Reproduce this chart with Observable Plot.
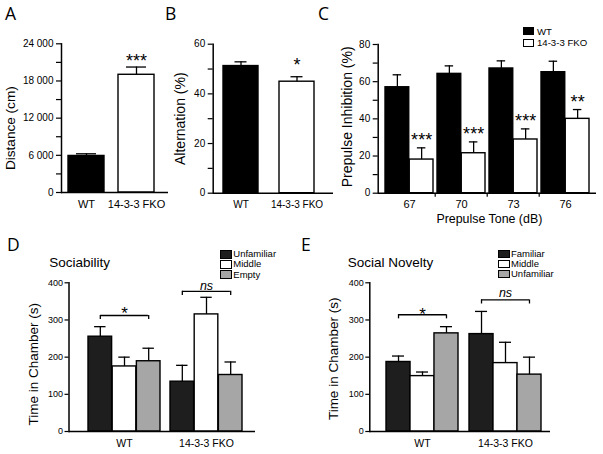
<!DOCTYPE html>
<html>
<head>
<meta charset="utf-8">
<script src="https://cdn.jsdelivr.net/npm/d3@7"></script>
<script src="https://cdn.jsdelivr.net/npm/@observablehq/plot@0.6"></script>
<style>
html,body{margin:0;padding:0;background:#fff;}
#fig{position:relative;width:603px;height:454px;overflow:hidden;background:#fff;color:#000;}
.abs{position:absolute;white-space:nowrap;line-height:1;margin:0;}
.sw{position:absolute;box-sizing:border-box;border:1px solid #000;}
</style>
</head>
<body>
<div id="fig"></div>
<script>
// ---------- Panel A: open field distance ----------
const genotypes = ["WT", "14-3-3 FKO"];
const distanceMean = [5900, 19000];
const distanceErr = [6250, 20250];
const distanceSig = ["", "***"];
const distanceTicks = [0, 6000, 12000, 18000, 24000];
const distanceMinor = [3000, 9000, 15000, 21000];

// ---------- Panel B: alternation ----------
const alternationMean = [51.2, 44.9];
const alternationErr = [52.9, 46.9];
const alternationSig = ["", "*"];
const alternationTicks = [0, 20, 40, 60];
const alternationMinor = [10, 30, 50];

// ---------- Panel C: prepulse inhibition ----------
const tones = ["67", "70", "73", "76"];
const ppiWT = [57.0, 64.2, 67.1, 65.1];
const ppiWTErr = [63.7, 68.5, 71.2, 71.0];
const ppiFKO = [18.1, 21.5, 28.9, 40.0];
const ppiFKOErr = [24.4, 27.6, 34.6, 45.0];
const ppiSig = ["***", "***", "***", "**"];
const ppiTicks = [0, 20, 40, 60, 80];
const ppiMinor = [10, 30, 50, 70];

// ---------- Panel D: sociability ----------
const socChambers = ["Unfamiliar", "Middle", "Empty"];
const socWT = [255, 175, 189];
const socWTErr = [282, 200, 224];
const socFKO = [134, 315, 152];
const socFKOErr = [178, 361, 187];
const socBracket = [312, 377];
const socBracketSig = ["*", "ns"];

// ---------- Panel E: social novelty ----------
const novChambers = ["Familiar", "Middle", "Unfamiliar"];
const novWT = [187, 149, 264];
const novWTErr = [203, 160, 282];
const novFKO = [262, 184, 153];
const novFKOErr = [323, 240, 200];
const novBracket = [314, 354];
const novBracketSig = ["*", "ns"];

const chamberTicks = [0, 100, 200, 300, 400];
const chamberFills = ["#1e1e1e", "#ffffff", "#a6a6a6"];

const FONT = "'Liberation Sans', Arial, Helvetica, sans-serif";
const fig = document.getElementById("fig");

function addText(txt, x, baseline, size, extra = {}) {
  const d = document.createElement("div");
  d.className = "abs";
  d.textContent = txt;
  const fam = extra.family || FONT;
  const ratio = extra.ratio || 0.8465;
  Object.assign(d.style, {left: x + "px", top: (baseline - ratio * size) + "px", fontSize: size + "px", fontFamily: fam});
  fig.appendChild(d);
}

function addLegend(items, o) {
  items.forEach((it, i) => {
    const s = document.createElement("div");
    s.className = "sw";
    Object.assign(s.style, {left: o.swX + "px", top: (o.swY + i * o.step) + "px", width: o.swW + "px", height: o.swH + "px", background: it.fill});
    fig.appendChild(s);
    addText(it.label, o.textX, o.base + i * o.step, o.font);
  });
}

function drawPanel(o) {
  const xsc = Plot.scale({x: {type: "band", domain: o.groups, range: [o.ml, o.width - o.mr], paddingInner: o.pi, paddingOuter: o.po, align: o.align}});
  const bw = xsc.bandwidth;
  const step = xsc.step || bw / (1 - o.pi);
  const k = o.series.length;
  const sw = o.sw || 1.4;
  const ew = o.ew || 1.3;
  const marks = [];
  o.series.forEach((s, i) => {
    const rows = o.groups.map((g, j) => ({
      group: g, value: s.values[j], err: s.errs[j],
      sig: s.sig ? s.sig[j] : "",
      fill: Array.isArray(s.fill) ? s.fill[j] : s.fill
    }));
    const c = (i + 0.5) * bw / k;
    marks.push(Plot.barY(rows, {x: "group", y: "value", fill: d => d.fill, stroke: "#000", strokeWidth: sw,
      insetLeft: i * bw / k, insetRight: bw - (i + 1) * bw / k}));
    marks.push(Plot.ruleX(rows, {x: "group", y1: "value", y2: "err", dx: c - bw / 2, stroke: "#000", strokeWidth: ew}));
    marks.push(Plot.tickY(rows, {x: "group", y: "err", insetLeft: c - o.cap, insetRight: bw - c - o.cap, stroke: "#000", strokeWidth: ew}));
    const sr = rows.filter(d => d.sig);
    if (sr.length) marks.push(Plot.text(sr, {x: "group", y: "err", text: "sig", dx: c - bw / 2, dy: o.starDy, lineAnchor: "bottom", textAnchor: "middle", fontSize: o.starSize, fill: "#000"}));
  });
  if (o.brackets) {
    const br = o.groups.map((g, j) => ({group: g, y: o.brackets[j], sig: o.bracketSig[j]}));
    const c0 = 0.5 * bw / k, c2 = (k - 0.5) * bw / k;
    marks.push(Plot.tickY(br, {x: "group", y: "y", insetLeft: c0, insetRight: bw - c2, stroke: "#000", strokeWidth: ew}));
    marks.push(Plot.ruleX(br, {x: "group", y1: "y", y2: d => d.y - o.drop, dx: c0 - bw / 2, stroke: "#000", strokeWidth: ew}));
    marks.push(Plot.ruleX(br, {x: "group", y1: "y", y2: d => d.y - o.drop, dx: c2 - bw / 2, stroke: "#000", strokeWidth: ew}));
    marks.push(Plot.text(br.filter(d => d.sig !== "ns"), {x: "group", y: "y", text: "sig", lineAnchor: "bottom", textAnchor: "middle", dy: o.brStarDy, fontSize: o.starSize}));
    marks.push(Plot.text(br.filter(d => d.sig === "ns"), {x: "group", y: "y", text: "sig", lineAnchor: "bottom", textAnchor: "middle", dy: o.nsDy, fontSize: o.nsSize, fontStyle: "italic"}));
  }
  marks.push(Plot.axisY({ticks: o.ticks, tickSize: o.tickSize, tickPadding: o.tickPad, tickFormat: o.fmt || (d => String(d)), fontSize: o.tickFont, label: null, strokeWidth: 1.2}));
  if (o.minor) marks.push(Plot.axisY({ticks: o.minor, tickSize: o.tickSize, tickFormat: () => "", label: null, strokeWidth: 1.2}));
  marks.push(Plot.axisX({tickSize: 0, tickPadding: o.xPad, fontSize: o.xFont, label: null}));
  if (o.betweenTicks) marks.push(Plot.axisX({ticks: o.groups.slice(1), tickSize: 4, tickFormat: () => "", label: null, dx: -step / 2, strokeWidth: 1.2}));
  marks.push(Plot.ruleY([0], {stroke: "#000", strokeWidth: 1.5}));
  marks.push(Plot.frame({anchor: "left", stroke: "#000", strokeWidth: 1.5}));
  marks.push(Plot.text([o.ylabel], {text: d => d, frameAnchor: "left", rotate: -90, dx: o.ylDx, dy: o.ylDy, fontSize: o.ylFont, textAnchor: "middle", lineAnchor: "middle"}));
  if (o.xlabel) marks.push(Plot.text([o.xlabel], {text: d => d, frameAnchor: "bottom", dx: o.xlDx, dy: o.xlDy, fontSize: o.xlFont, textAnchor: "middle", lineAnchor: "bottom"}));

  const svg = Plot.plot({
    width: o.width, height: o.height,
    marginLeft: o.ml, marginRight: o.mr, marginTop: o.mt, marginBottom: o.mb,
    x: {type: "band", domain: o.groups, paddingInner: o.pi, paddingOuter: o.po, align: o.align},
    y: {domain: o.yDomain},
    color: {type: "identity"},
    style: {fontFamily: FONT, background: "transparent", overflow: "visible", position: "absolute", left: o.left + "px", top: o.top + "px", color: "#000", maxWidth: "none"},
    marks
  });
  fig.appendChild(svg);
}

const thousands = d => d === 0 ? "0" : d3.format(",")(d).replace(/,/g, " ");

// Panel A
drawPanel({
  left: 0, top: 0, width: 190, height: 230, ml: 61, mr: 22, mt: 43.3, mb: 38,
  groups: genotypes, pi: 0.28, po: 0.21, align: 0.333,
  series: [{values: distanceMean, errs: distanceErr, sig: distanceSig, fill: ["#000", "#fff"]}],
  yDomain: [0, 24000], ticks: distanceTicks, minor: distanceMinor, fmt: thousands,
  tickSize: 5, tickPad: 3, tickFont: 10, xPad: 7.3, xFont: 11,
  cap: 10, starDy: -0.5, starSize: 18,
  ylabel: "Distance (cm)", ylDx: -51, ylDy: 10, ylFont: 13.6
});

// Panel B
drawPanel({
  left: 155, top: 0, width: 185, height: 230, ml: 57.7, mr: 7, mt: 43.7, mb: 37.3,
  groups: genotypes, pi: 0.375, po: 0.2616, align: 0.35,
  series: [{values: alternationMean, errs: alternationErr, sig: alternationSig, fill: ["#000", "#fff"]}],
  yDomain: [0, 60], ticks: alternationTicks, minor: alternationMinor,
  tickSize: 5, tickPad: 3, tickFont: 10, xPad: 7.3, xFont: 10,
  cap: 6, starDy: -5.3, starSize: 18,
  ylabel: "Alternation (%)", ylDx: -32.7, ylDy: 0, ylFont: 14
});

// Panel C
drawPanel({
  left: 330, top: 0, width: 273, height: 230, ml: 47.7, mr: 7, mt: 44, mb: 37.3,
  groups: tones, pi: 0.078, po: 0.114, align: 0.525,
  series: [
    {values: ppiWT, errs: ppiWTErr, fill: "#000"},
    {values: ppiFKO, errs: ppiFKOErr, sig: ppiSig, fill: "#fff"}
  ],
  yDomain: [0, 80], ticks: ppiTicks, minor: ppiMinor,
  tickSize: 5, tickPad: 3, tickFont: 10, xPad: 7.3, xFont: 11, betweenTicks: true,
  cap: 4.5, starDy: -1.5, starSize: 18,
  ylabel: "Prepulse Inhibition (%)", ylDx: -31, ylDy: -2, ylFont: 14,
  xlabel: "Prepulse Tone (dB)", xlDx: 2, xlDy: 30, xlFont: 12.4
});

// Panel D
drawPanel({
  left: 0, top: 230, width: 300, height: 224, ml: 68.5, mr: 45, mt: 52.3, mb: 23,
  groups: genotypes, pi: 0.121, po: 0.19, align: 0.61,
  series: socChambers.map((c, i) => ({values: [socWT[i], socFKO[i]], errs: [socWTErr[i], socFKOErr[i]], fill: chamberFills[i]})),
  yDomain: [0, 400], ticks: chamberTicks,
  tickSize: 4, tickPad: 2, tickFont: 9, xPad: 8.5, xFont: 10.5,
  cap: 6, starSize: 17,
  brackets: socBracket, bracketSig: socBracketSig, drop: 11, brStarDy: 3.5, nsDy: -1.7, nsSize: 12.5,
  ylabel: "Time in Chamber (s)", ylDx: -35.2, ylDy: 7, ylFont: 13.5
});

// Panel E
drawPanel({
  left: 300, top: 230, width: 303, height: 224, ml: 69.3, mr: 53, mt: 52.3, mb: 23,
  groups: genotypes, pi: 0.136, po: 0.153, align: 0.66,
  series: novChambers.map((c, i) => ({values: [novWT[i], novFKO[i]], errs: [novWTErr[i], novFKOErr[i]], fill: chamberFills[i]})),
  yDomain: [0, 400], ticks: chamberTicks,
  tickSize: 4, tickPad: 2, tickFont: 9, xPad: 8.5, xFont: 10.5,
  cap: 6, starSize: 17,
  brackets: novBracket, bracketSig: novBracketSig, drop: 11, brStarDy: 5.2, nsDy: -2.6, nsSize: 12.5,
  ylabel: "Time in Chamber (s)", ylDx: -36, ylDy: 1.7, ylFont: 13.5
});

// Panel letters
const LETTER = {family: "'Open Sans', 'Liberation Sans', sans-serif", ratio: 0.888};
addText("A", 5, 21, 17.5, LETTER);
addText("B", 165, 21, 17.5, LETTER);
addText("C", 318, 20.5, 17.5, LETTER);
addText("D", 7, 252, 17.5, LETTER);
addText("E", 301, 252, 17.5, LETTER);

// Titles
addText("Sociability", 49.3, 267.3, 13.5);
addText("Social Novelty", 347.7, 267.3, 13.5);

// Legends
addLegend([{label: "WT", fill: "#000"}, {label: "14-3-3 FKO", fill: "#fff"}],
  {swX: 523.3, swY: 27.3, swW: 11, swH: 8, step: 11.3, textX: 537, base: 35, font: 9.6});
addLegend(socChambers.map((l, i) => ({label: l, fill: chamberFills[i]})),
  {swX: 220, swY: 250, swW: 11.7, swH: 8.5, step: 10.2, textX: 233.3, base: 257.3, font: 9.5});
addLegend(novChambers.map((l, i) => ({label: l, fill: chamberFills[i]})),
  {swX: 498.3, swY: 249.5, swW: 11.7, swH: 8.5, step: 10.2, textX: 511, base: 257, font: 9.5});
</script>
</body>
</html>
